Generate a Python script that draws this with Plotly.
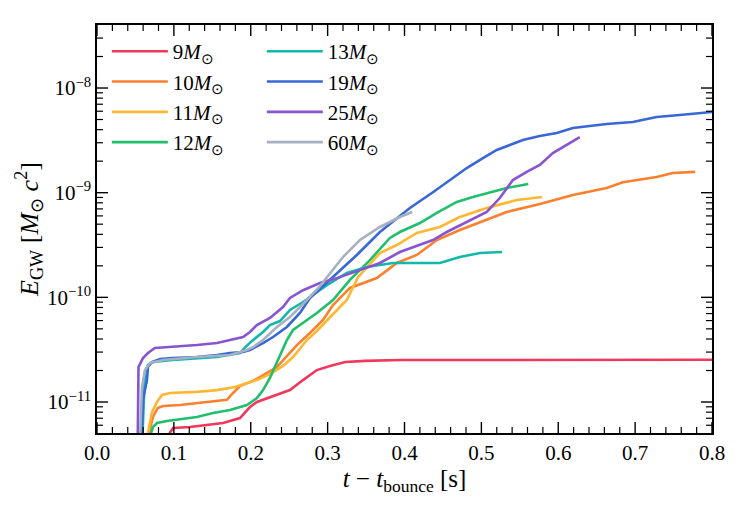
import plotly.graph_objects as go

# ---- data (time after bounce [s], GW energy [Msun c^2]) ----
t_9 = [0.090, 0.099, 0.121, 0.143, 0.164, 0.186, 0.199, 0.208, 0.234, 0.251, 0.268, 0.286, 0.303, 0.323, 0.349, 0.394, 0.500, 0.600, 0.700, 0.800]
e_9 = [4.5e-12, 5.65e-12, 5.77e-12, 6.03e-12, 6.30e-12, 7.03e-12, 8.96e-12, 1.0e-11, 1.17e-11, 1.30e-11, 1.62e-11, 2.02e-11, 2.21e-11, 2.41e-11, 2.47e-11, 2.52e-11, 2.52e-11, 2.53e-11, 2.53e-11, 2.53e-11]

t_10 = [0.066, 0.0728, 0.079, 0.086, 0.108, 0.134, 0.169, 0.177, 0.186, 0.203, 0.216, 0.234, 0.247, 0.260, 0.277, 0.294, 0.307, 0.329, 0.364, 0.390, 0.416, 0.442, 0.472, 0.507, 0.533, 0.576, 0.619, 0.663, 0.684, 0.728, 0.749, 0.778]
e_10 = [4.5e-12, 7.19e-12, 8.77e-12, 9.16e-12, 9.37e-12, 9.78e-12, 1.05e-11, 1.22e-11, 1.42e-11, 1.59e-11, 1.81e-11, 2.16e-11, 2.75e-11, 3.50e-11, 4.56e-11, 6.07e-11, 8.45e-11, 1.23e-10, 1.53e-10, 2.13e-10, 2.54e-10, 3.53e-10, 4.40e-10, 5.48e-10, 6.54e-10, 7.79e-10, 9.50e-10, 1.11e-09, 1.26e-09, 1.41e-09, 1.54e-09, 1.58e-09]

t_11 = [0.065, 0.0715, 0.078, 0.0846, 0.095, 0.130, 0.156, 0.180, 0.195, 0.208, 0.225, 0.242, 0.255, 0.273, 0.286, 0.303, 0.316, 0.325, 0.3395, 0.368, 0.390, 0.416, 0.446, 0.472, 0.507, 0.546, 0.579]
e_11 = [4.5e-12, 8.02e-12, 1.0e-11, 1.17e-11, 1.22e-11, 1.25e-11, 1.30e-11, 1.39e-11, 1.52e-11, 1.62e-11, 1.85e-11, 2.21e-11, 2.69e-11, 3.91e-11, 4.77e-11, 6.35e-11, 8.09e-11, 9.43e-11, 1.56e-10, 2.65e-10, 3.16e-10, 4.12e-10, 4.70e-10, 5.86e-10, 7.14e-10, 8.51e-10, 9.09e-10]

t_12 = [0.068, 0.0728, 0.078, 0.091, 0.130, 0.151, 0.173, 0.195, 0.208, 0.216, 0.225, 0.234, 0.247, 0.255, 0.268, 0.286, 0.307, 0.329, 0.355, 0.381, 0.394, 0.420, 0.442, 0.468, 0.489, 0.511, 0.533, 0.561]
e_12 = [4.5e-12, 5.77e-12, 6.30e-12, 6.58e-12, 7.19e-12, 7.85e-12, 8.39e-12, 9.37e-12, 1.09e-11, 1.30e-11, 1.70e-11, 2.36e-11, 3.91e-11, 4.88e-11, 5.69e-11, 7.09e-11, 9.43e-11, 1.47e-10, 2.27e-10, 3.69e-10, 4.21e-10, 5.13e-10, 6.40e-10, 8.15e-10, 9.09e-10, 1.0e-09, 1.11e-09, 1.21e-09]

t_13 = [0.059, 0.0624, 0.0663, 0.0728, 0.0989, 0.130, 0.156, 0.186, 0.193, 0.203, 0.216, 0.225, 0.238, 0.251, 0.268, 0.299, 0.325, 0.351, 0.385, 0.446, 0.472, 0.498, 0.527]
e_13 = [4.5e-12, 1.89e-11, 2.26e-11, 2.41e-11, 2.52e-11, 2.63e-11, 2.69e-11, 2.94e-11, 3.35e-11, 3.91e-11, 4.67e-11, 5.44e-11, 5.94e-11, 7.57e-11, 9.03e-11, 1.31e-10, 1.71e-10, 1.95e-10, 2.13e-10, 2.13e-10, 2.43e-10, 2.65e-10, 2.71e-10]

t_19 = [0.058, 0.0598, 0.065, 0.0663, 0.0715, 0.082, 0.0989, 0.130, 0.156, 0.173, 0.190, 0.199, 0.216, 0.229, 0.247, 0.264, 0.277, 0.307, 0.338, 0.368, 0.407, 0.437, 0.455, 0.481, 0.502, 0.520, 0.537, 0.554, 0.576, 0.598, 0.619, 0.663, 0.697, 0.728, 0.758, 0.800]
e_19 = [4.5e-12, 1.05e-11, 1.62e-11, 2.16e-11, 2.41e-11, 2.58e-11, 2.63e-11, 2.69e-11, 2.81e-11, 2.94e-11, 3.01e-11, 3.14e-11, 3.66e-11, 4.18e-11, 5.21e-11, 7.09e-11, 9.86e-11, 1.56e-10, 2.54e-10, 4.21e-10, 7.14e-10, 1.01e-09, 1.26e-09, 1.72e-09, 2.14e-09, 2.56e-09, 2.85e-09, 3.18e-09, 3.48e-09, 3.72e-09, 4.15e-09, 4.53e-09, 4.73e-09, 5.28e-09, 5.52e-09, 5.90e-09]

t_25 = [0.053, 0.054, 0.0598, 0.0663, 0.0754, 0.095, 0.130, 0.156, 0.173, 0.190, 0.199, 0.208, 0.225, 0.242, 0.251, 0.268, 0.290, 0.316, 0.342, 0.368, 0.394, 0.437, 0.455, 0.481, 0.507, 0.524, 0.541, 0.559, 0.576, 0.593, 0.611, 0.628]
e_25 = [4.5e-12, 2.16e-11, 2.63e-11, 2.94e-11, 3.28e-11, 3.35e-11, 3.50e-11, 3.66e-11, 3.91e-11, 4.18e-11, 4.67e-11, 5.44e-11, 6.35e-11, 8.09e-11, 9.86e-11, 1.17e-10, 1.37e-10, 1.56e-10, 1.82e-10, 2.13e-10, 2.71e-10, 3.53e-10, 4.21e-10, 5.25e-10, 6.54e-10, 8.89e-10, 1.32e-09, 1.58e-09, 1.84e-09, 2.39e-09, 2.85e-09, 3.40e-09]

t_60 = [0.056, 0.0585, 0.0624, 0.069, 0.0859, 0.130, 0.173, 0.195, 0.203, 0.216, 0.234, 0.251, 0.268, 0.290, 0.320, 0.342, 0.368, 0.394, 0.410]
e_60 = [4.5e-12, 1.39e-11, 2.02e-11, 2.36e-11, 2.52e-11, 2.69e-11, 2.81e-11, 3.14e-11, 3.35e-11, 3.91e-11, 5.21e-11, 6.49e-11, 8.64e-11, 1.28e-10, 2.43e-10, 3.53e-10, 4.70e-10, 5.86e-10, 6.54e-10]

masses = ["9", "10", "11", "12", "13", "19", "25", "60"]
times = [t_9, t_10, t_11, t_12, t_13, t_19, t_25, t_60]
energies = [e_9, e_10, e_11, e_12, e_13, e_19, e_25, e_60]
colors = ["#f0375c", "#fe7f2c", "#fdb733", "#20bf6b", "#14b8ab", "#3867d6", "#8854d0", "#a5b1c2"]

x_range = [0.0, 0.8]
y_range_log = [-11.296, -7.398]
x_major = [0.0, 0.1, 0.2, 0.3, 0.4, 0.5, 0.6, 0.7, 0.8]
x_minor_step = 0.02
y_major = [1e-11, 1e-10, 1e-9, 1e-8]
y_major_text = ["10<sup>\u221211</sup>", "10<sup>\u221210</sup>", "10<sup>\u22129</sup>", "10<sup>\u22128</sup>"]

FONT = "Liberation Serif"
W, H = 750, 510
M = dict(l=97, r=38, t=25, b=77)
plot_w = W - M["l"] - M["r"]
plot_h = H - M["t"] - M["b"]
px_per_x = plot_w / (x_range[1] - x_range[0])
px_per_dec = plot_h / (y_range_log[1] - y_range_log[0])

fig = go.Figure()
for i, (m, t, e, c) in enumerate(zip(masses, times, energies, colors)):
    fig.add_trace(go.Scatter(
        x=t, y=e, mode="lines", name=f"{m}<i>M</i><sub>\u2299</sub>",
        line=dict(color=c, width=2.6),
        legend="legend" if i < 4 else "legend2",
        legendgroup=f"g{m}",
    ))

# ---- inside tick marks on all four sides, built from the tick values ----
def tick_segments(major):
    xs, ys = [], []
    L = 11 if major else 6
    dy = L / px_per_dec
    dx = L / px_per_x
    ylo, yhi = y_range_log
    n_x = int(round((x_range[1] - x_range[0]) / x_minor_step))
    for k in range(n_x + 1):
        xv = round(x_range[0] + k * x_minor_step, 4)
        is_major = any(abs(xv - mv) < 1e-9 for mv in x_major)
        if is_major != major:
            continue
        xs += [xv, xv, None, xv, xv, None]
        ys += [10 ** ylo, 10 ** (ylo + dy), None, 10 ** yhi, 10 ** (yhi - dy), None]
    for p in range(-12, -7):
        for d in range(1, 10):
            yv = d * 10.0 ** p
            if yv < 10 ** ylo or yv > 10 ** yhi:
                continue
            if (d == 1) != major:
                continue
            xs += [x_range[0], x_range[0] + dx, None, x_range[1], x_range[1] - dx, None]
            ys += [yv, yv, None, yv, yv, None]
    return xs, ys

for major, w in ((True, 1.4), (False, 1.2)):
    tx, ty = tick_segments(major)
    fig.add_trace(go.Scatter(
        x=tx, y=ty, mode="lines", line=dict(color="black", width=w),
        showlegend=False, hoverinfo="skip", cliponaxis=False, connectgaps=False,
    ))

fig.update_layout(
    template="none",
    xaxis=dict(
        range=x_range, tickmode="array", tickvals=x_major, ticktext=[f"{v:.1f}" for v in x_major],
        showline=True, linecolor="black", linewidth=1.5, mirror=True,
        ticks="", showgrid=False, zeroline=False,
        tickfont=dict(family=FONT, size=21, color="black"),
        title=dict(text="<i>t</i> \u2212 <i>t</i><sub>bounce</sub> [s]", font=dict(family=FONT, size=25, color="black"), standoff=3),
    ),
    yaxis=dict(
        type="log", range=y_range_log, tickmode="array", tickvals=y_major, ticktext=y_major_text,
        showline=True, linecolor="black", linewidth=1.5, mirror=True,
        ticks="", showgrid=False, zeroline=False,
        tickfont=dict(family=FONT, size=21, color="black"),
        title=dict(text="<i>E</i><sub>GW</sub> [<i>M</i><sub>\u2299</sub> <i>c</i><sup>2</sup>]", font=dict(family=FONT, size=26, color="black"), standoff=0),
    ),
)

leg_common = dict(
    bgcolor="rgba(0,0,0,0)", borderwidth=0,
    font=dict(family=FONT, size=21, color="black"),
    xanchor="left", yanchor="top", itemwidth=56, tracegroupgap=0,
)
fig.update_layout(
    width=W, height=H,
    margin=M,
    paper_bgcolor="white", plot_bgcolor="white",
    legend=dict(x=0.016, y=0.985, **leg_common),
    legend2=dict(x=0.268, y=0.985, **leg_common),
    showlegend=True,
)

fig.write_html("out.html")
